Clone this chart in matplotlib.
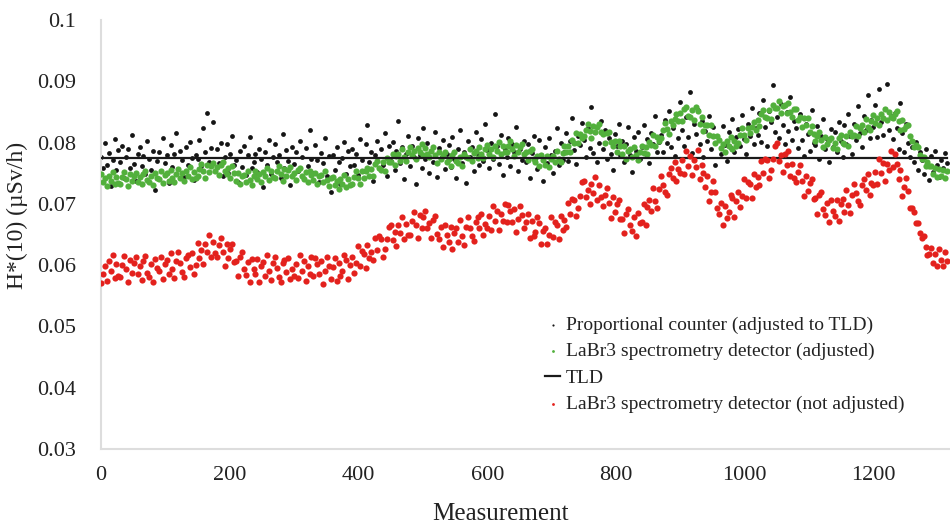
import numpy as np
import matplotlib.pyplot as plt

plt.rcParams['font.family'] = ['Liberation Serif', 'DejaVu Serif']

measurement = np.arange(0, 1316, 3)

prop_counter = [
    77.6, 75.8, 79.9, 76.4, 78.3, 72.9, 77.1, 80.6, 75.5, 78.8,
    76.9, 79.4, 74.3, 77.7, 78.9, 75.9, 81.2, 76.5, 73.8, 78.1,
    79.2, 76.2, 77.8, 74.9, 80.3, 77.3, 75.6, 78.6, 72.3, 77.0,
    78.4, 75.3, 80.8, 76.7, 77.9, 73.4, 79.6, 76.0, 78.2, 81.6,
    75.7, 78.7, 77.2, 74.4, 79.3, 76.3, 80.1, 77.5, 73.9, 78.0,
    77.4, 80.5, 76.1, 82.4, 78.5, 84.8, 76.8, 79.1, 83.3, 75.4,
    78.9, 76.6, 80.0, 74.6, 77.6, 79.8, 75.1, 78.2, 81.0, 76.4,
    77.2, 73.6, 78.6, 76.0, 79.5, 74.7, 77.9, 80.9, 75.8, 76.9,
    78.1, 75.2, 79.0, 77.4, 72.7, 78.5, 76.3, 80.4, 74.8, 77.7,
    79.7, 76.8, 78.0, 74.2, 81.4, 75.9, 78.8, 77.0, 73.1, 79.2,
    76.5, 78.4, 75.3, 80.2, 77.6, 74.0, 79.1, 76.2, 82.0, 77.3,
    75.0, 79.6, 77.1, 73.5, 78.3, 76.6, 80.7, 74.5, 77.8, 71.9,
    78.0, 75.6, 79.3, 76.9, 73.3, 77.5, 80.1, 74.9, 78.7, 76.1,
    79.0, 76.4, 78.2, 74.7, 80.6, 77.2, 75.3, 79.8, 82.8, 76.8,
    78.5, 73.7, 77.9, 80.3, 75.8, 78.9, 76.3, 81.5, 74.6, 79.4,
    77.0, 80.1, 75.5, 78.7, 83.6, 76.6, 79.3, 74.1, 78.1, 81.0,
    76.2, 79.5, 77.6, 73.2, 80.8, 78.0, 75.9, 82.4, 77.3, 79.9,
    75.1, 78.6, 76.8, 81.7, 74.4, 79.1, 77.5, 80.4, 75.7, 78.2,
    79.6, 76.0, 80.9, 77.4, 74.3, 79.0, 82.1, 76.7, 78.5, 73.4,
    80.3, 77.7, 79.2, 75.3, 81.8, 78.1, 76.4, 80.6, 77.0, 83.0,
    78.8, 75.8, 80.0, 77.3, 84.6, 79.4, 76.5, 81.3, 74.7, 78.9,
    77.6, 80.8, 76.2, 79.7, 78.4, 82.5, 75.4, 79.0, 77.1, 80.2,
    76.9, 79.8, 74.2, 78.3, 81.1, 77.4, 75.7, 80.5, 78.0, 73.8,
    79.3, 76.6, 80.7, 77.9, 75.1, 78.6, 82.3, 76.3, 79.9, 77.2,
    78.4, 81.6, 77.0, 80.2, 84.0, 78.8, 76.5, 81.1, 79.6, 83.2,
    80.5, 77.6, 82.4, 79.1, 85.8, 78.3, 81.7, 76.9, 80.0, 83.5,
    79.0, 82.0, 77.3, 80.8, 78.2, 75.6, 81.4, 79.5, 83.0, 77.9,
    80.3, 76.8, 79.7, 82.6, 78.0, 75.2, 80.9, 78.6, 81.8, 77.4,
    79.2, 82.9, 78.1, 80.6, 76.7, 81.5, 79.8, 84.3, 78.5, 80.1,
    81.2, 78.4, 83.7, 80.0, 85.1, 79.3, 82.4, 77.8, 84.6, 80.7,
    86.6, 82.0, 79.5, 84.2, 80.9, 88.2, 78.3, 83.0, 81.4, 85.3,
    79.8, 83.6, 77.6, 81.9, 80.3, 84.4, 78.9, 82.5, 76.4, 81.0,
    80.4, 78.1, 82.7, 79.6, 77.0, 81.8, 79.1, 83.9, 78.4, 80.9,
    82.2, 79.4, 84.5, 80.6, 78.2, 83.1, 81.0, 85.7, 79.8, 82.4,
    81.3, 84.8, 80.1, 86.9, 82.6, 79.5, 85.2, 83.4, 89.4, 81.7,
    84.1, 80.8, 86.3, 82.9, 79.7, 85.0, 81.9, 87.5, 80.4, 83.6,
    82.3, 79.1, 84.6, 80.5, 77.8, 83.0, 81.4, 78.6, 85.3, 80.0,
    79.6, 82.7, 77.4, 81.1, 83.8, 78.9, 80.6, 76.8, 82.2, 79.3,
    81.8, 78.5, 83.4, 80.2, 77.7, 82.9, 79.8, 84.7, 81.0, 78.2,
    83.1, 80.4, 85.9, 81.6, 79.2, 84.3, 82.0, 87.7, 80.8, 83.7,
    82.5, 86.1, 80.9, 88.8, 83.3, 81.2, 85.5, 89.6, 82.1, 84.4,
    80.6, 84.9, 82.3, 79.0, 86.4, 81.5, 78.4, 83.0, 80.0, 77.6,
    79.3, 76.9, 80.1, 75.6, 78.4, 77.2, 74.8, 78.9, 76.1, 73.9,
    77.8, 75.2, 78.6, 76.4, 74.4, 77.1, 75.9, 78.3, 76.6,
]

labr3_adjusted = [
    74.9, 73.5, 74.2, 72.9, 74.6, 73.8, 75.2, 73.2, 74.4, 73.4,
    73.3, 74.4, 75.2, 74.0, 72.9, 74.8, 73.7, 74.6, 75.1, 73.6,
    74.4, 73.2, 74.9, 75.3, 73.9, 73.5, 74.6, 73.0, 75.0, 74.3,
    74.0, 75.3, 73.4, 74.7, 75.0, 73.8, 75.6, 74.2, 73.5, 74.9,
    75.7, 74.3, 75.0, 73.7, 75.4, 74.6, 76.0, 74.0, 75.2, 74.2,
    74.5, 75.7, 76.5, 75.3, 74.3, 76.3, 75.2, 76.1, 76.7, 75.3,
    76.0, 74.7, 76.4, 76.8, 75.3, 74.9, 75.9, 74.3, 76.1, 75.1,
    73.8, 75.1, 73.2, 74.5, 74.7, 73.5, 75.3, 73.9, 73.1, 74.5,
    75.4, 74.1, 74.8, 73.6, 75.2, 74.5, 75.9, 73.9, 75.4, 74.4,
    74.2, 75.3, 76.1, 74.9, 73.8, 75.7, 74.6, 75.5, 76.0, 74.5,
    75.1, 73.9, 75.6, 75.9, 74.5, 74.1, 75.2, 73.5, 75.4, 74.7,
    73.9, 75.1, 73.2, 74.5, 74.7, 73.5, 75.3, 73.9, 72.9, 74.3,
    74.4, 73.0, 73.7, 72.4, 74.1, 73.3, 74.7, 72.8, 74.0, 73.0,
    73.2, 74.4, 75.3, 74.2, 73.2, 75.3, 74.3, 75.3, 75.9, 74.5,
    75.7, 74.6, 76.5, 77.0, 75.8, 75.5, 76.8, 75.3, 77.5, 76.9,
    76.8, 78.2, 76.4, 77.8, 78.2, 77.0, 78.9, 77.6, 77.0, 78.5,
    79.3, 77.9, 78.7, 77.4, 79.1, 78.4, 79.8, 77.9, 79.1, 78.2,
    77.6, 78.6, 79.3, 77.9, 76.7, 78.5, 77.3, 78.0, 78.4, 76.8,
    77.4, 76.2, 77.9, 78.4, 77.0, 76.6, 77.7, 76.2, 78.2, 77.7,
    77.5, 78.9, 77.0, 78.3, 78.6, 77.5, 79.3, 78.2, 77.5, 79.0,
    79.6, 78.2, 78.9, 77.7, 79.4, 78.7, 80.1, 78.2, 79.4, 78.5,
    78.4, 79.5, 80.2, 79.0, 77.8, 79.6, 78.4, 79.2, 79.7, 78.1,
    78.4, 77.1, 78.6, 78.9, 77.4, 76.8, 77.8, 76.1, 77.9, 77.1,
    76.4, 77.8, 76.0, 77.4, 77.8, 76.8, 78.7, 77.4, 76.8, 78.3,
    79.5, 78.4, 79.4, 78.4, 80.4, 79.9, 81.6, 79.9, 81.4, 80.7,
    81.0, 82.1, 83.0, 81.9, 80.8, 82.7, 81.7, 82.6, 83.1, 81.7,
    81.4, 80.0, 81.5, 81.7, 80.1, 79.4, 80.3, 78.5, 80.3, 79.4,
    78.2, 79.4, 77.4, 78.7, 78.9, 77.6, 79.3, 77.9, 77.1, 78.4,
    79.4, 78.3, 79.2, 78.2, 80.1, 79.6, 81.2, 79.5, 80.9, 80.2,
    80.7, 82.1, 83.2, 82.2, 81.4, 83.6, 82.8, 83.9, 84.7, 83.5,
    84.8, 83.6, 85.4, 85.8, 84.4, 84.1, 85.3, 83.7, 85.8, 85.1,
    83.1, 84.1, 81.9, 82.8, 82.8, 81.3, 82.8, 81.1, 80.0, 81.1,
    80.4, 79.1, 79.8, 78.5, 80.2, 79.5, 80.9, 79.0, 80.3, 79.4,
    80.0, 81.3, 82.3, 81.3, 80.4, 82.4, 81.5, 82.6, 83.3, 82.0,
    83.7, 82.7, 84.7, 85.3, 84.1, 84.0, 85.3, 83.9, 86.2, 85.7,
    85.6, 86.8, 84.8, 86.0, 86.2, 84.8, 86.5, 85.0, 84.2, 85.5,
    85.4, 83.7, 84.1, 82.6, 84.0, 82.9, 84.0, 81.8, 82.7, 81.4,
    80.2, 81.1, 81.8, 80.4, 79.2, 80.9, 79.7, 80.4, 80.8, 79.1,
    80.0, 78.9, 80.8, 81.3, 80.0, 79.8, 81.0, 79.5, 81.7, 81.1,
    81.3, 82.7, 81.0, 82.4, 82.9, 81.8, 83.8, 82.5, 82.0, 83.5,
    84.5, 83.2, 84.0, 82.9, 84.7, 84.0, 85.5, 83.7, 85.0, 84.1,
    84.0, 84.7, 85.2, 83.6, 82.1, 83.7, 82.2, 82.7, 82.9, 81.0,
    80.2, 79.2, 79.6, 79.3, 77.9, 77.4, 77.7, 76.1, 76.9, 76.1,
    76.2, 74.8, 75.9, 74.4, 75.7, 74.6, 75.6, 74.3, 75.4,
]

labr3_not_adjusted = [
    57.1, 58.6, 59.8, 57.4, 60.6, 59.1, 61.7, 57.9, 60.2, 58.3,
    58.0, 60.1, 61.5, 59.3, 57.2, 60.9, 58.7, 60.4, 61.4, 58.5,
    59.8, 57.5, 60.7, 61.5, 58.8, 58.0, 60.2, 57.2, 61.0, 59.5,
    59.0, 61.4, 57.7, 60.2, 60.9, 58.6, 62.0, 59.4, 57.9, 60.7,
    62.2, 60.4, 58.9, 58.0, 61.1, 61.7, 59.7, 62.0, 58.5, 60.1,
    63.6, 61.1, 62.4, 60.2, 63.5, 62.2, 64.9, 61.3, 63.7, 62.0,
    61.3, 63.3, 64.5, 62.2, 59.9, 63.5, 61.1, 62.7, 63.5, 60.5,
    60.7, 58.3, 61.4, 62.1, 59.3, 58.4, 60.5, 57.3, 61.0, 59.4,
    58.6, 61.0, 57.3, 59.8, 60.5, 58.2, 61.6, 59.0, 57.5, 60.3,
    61.4, 59.6, 58.1, 57.2, 60.3, 60.9, 58.9, 61.2, 57.7, 59.3,
    58.3, 60.2, 57.9, 61.7, 59.1, 60.6, 57.4, 59.8, 58.6, 61.3,
    58.3, 61.2, 60.2, 58.5, 60.7, 57.0, 59.1, 61.3, 59.9, 57.8,
    59.7, 61.2, 57.4, 60.4, 58.2, 59.0, 61.7, 60.9, 57.7, 60.0,
    61.3, 58.7, 60.3, 63.1, 59.9, 62.3, 61.8, 59.5, 63.3, 61.1,
    62.2, 60.8, 64.5, 62.5, 64.7, 64.3, 61.4, 62.6, 64.3, 66.3,
    66.6, 64.1, 65.4, 63.2, 66.5, 65.2, 67.9, 64.3, 66.7, 65.0,
    65.0, 67.2, 68.6, 66.5, 64.4, 68.2, 66.0, 67.8, 68.8, 66.0,
    66.9, 64.4, 67.4, 68.0, 65.1, 64.2, 66.2, 63.0, 66.6, 64.9,
    63.8, 66.3, 62.7, 65.2, 66.0, 63.8, 67.3, 64.7, 63.3, 66.2,
    67.8, 66.1, 64.7, 63.9, 67.1, 67.9, 66.0, 68.4, 65.0, 66.7,
    66.0, 68.0, 65.8, 69.7, 67.2, 68.9, 65.8, 68.3, 67.2, 70.0,
    67.0, 69.8, 68.8, 67.0, 69.2, 65.4, 67.5, 69.6, 68.2, 66.0,
    67.1, 68.4, 64.4, 67.2, 64.8, 65.4, 67.9, 66.9, 63.5, 65.6,
    66.0, 63.4, 65.0, 67.8, 64.6, 67.0, 66.5, 64.2, 68.0, 65.8,
    67.4, 66.2, 70.2, 68.3, 70.8, 70.6, 68.0, 69.3, 71.3, 73.5,
    73.8, 71.1, 72.3, 69.9, 73.2, 71.7, 74.4, 70.6, 73.0, 71.1,
    69.7, 71.5, 72.6, 70.1, 67.7, 71.1, 68.6, 70.0, 70.7, 67.5,
    67.6, 65.3, 68.4, 69.1, 66.5, 65.6, 67.8, 64.8, 68.5, 66.9,
    67.1, 69.9, 66.6, 69.5, 70.6, 68.8, 72.6, 70.4, 69.3, 72.5,
    74.5, 73.1, 71.9, 71.4, 74.9, 75.8, 74.2, 76.9, 73.7, 75.7,
    75.1, 77.1, 74.9, 78.7, 76.2, 77.8, 74.7, 77.1, 76.0, 78.8,
    74.0, 76.4, 75.0, 72.8, 74.5, 70.4, 72.0, 73.7, 71.9, 69.3,
    68.4, 70.1, 66.5, 69.7, 67.7, 68.6, 71.5, 70.9, 67.9, 70.4,
    72.0, 69.5, 71.3, 74.1, 71.0, 73.6, 73.2, 70.9, 74.9, 72.8,
    74.4, 73.1, 77.0, 75.0, 77.3, 77.1, 74.3, 75.5, 77.4, 79.5,
    80.0, 77.0, 77.9, 75.2, 78.1, 76.3, 78.6, 74.5, 76.5, 74.3,
    73.5, 75.2, 76.3, 73.7, 71.3, 74.6, 72.1, 73.4, 74.1, 70.8,
    70.9, 68.4, 71.4, 72.0, 69.1, 68.2, 70.2, 67.0, 70.6, 68.9,
    68.1, 70.7, 67.2, 69.9, 70.8, 68.6, 72.2, 69.8, 68.5, 71.5,
    73.2, 71.7, 70.4, 69.8, 73.1, 74.0, 72.2, 74.8, 71.5, 73.4,
    73.0, 75.2, 73.2, 77.3, 75.0, 76.7, 73.8, 76.5, 75.6, 78.6,
    76.0, 78.2, 76.5, 74.1, 75.6, 71.3, 72.7, 74.2, 72.1, 69.3,
    69.4, 68.6, 66.8, 66.9, 65.2, 64.5, 64.8, 63.0, 61.7, 61.8,
    62.8, 60.4, 61.9, 59.8, 62.6, 60.9, 59.9, 62.1, 60.7,
]

tld = 77.5

x_ticks = [0, 200, 400, 600, 800, 1000, 1200]
y_ticks = [0.03, 0.04, 0.05, 0.06, 0.07, 0.08, 0.09, 0.1]
y_ticklabels = ["0.03", "0.04", "0.05", "0.06", "0.07", "0.08", "0.09", "0.1"]


def to_usv(values):
    return np.asarray(values) / 1000.0


fig = plt.figure(figsize=(9.5, 5.24), dpi=100)
ax = fig.add_axes([0.1063, 0.1431, 0.8937, 0.8187])

ax.scatter(measurement, to_usv(prop_counter), s=12, color='#151515',
           linewidths=0, label='Proportional counter (adjusted to TLD)', zorder=2)
ax.scatter(measurement, to_usv(labr3_adjusted), s=20, color='#52b03c',
           linewidths=0, label='LaBr3 spectrometry detector (adjusted)', zorder=3)
ax.plot(measurement, np.full(len(measurement), tld / 1000.0), color='#1a1a1a',
        lw=1.6, label='TLD', zorder=4)
ax.scatter(measurement, to_usv(labr3_not_adjusted), s=20, color='#e3211d',
           linewidths=0, label='LaBr3 spectrometry detector (not adjusted)', zorder=5)

ax.set_xlim(0, 1319)
ax.set_ylim(0.03, 0.1)
ax.set_xticks(x_ticks)
ax.set_yticks(y_ticks)
ax.set_yticklabels(y_ticklabels)
ax.tick_params(length=0, labelsize=16, colors='#222222')
ax.tick_params(axis='y', pad=18)
ax.tick_params(axis='x', pad=12)

for side in ['top', 'right']:
    ax.spines[side].set_visible(False)
for side in ['left', 'bottom']:
    ax.spines[side].set_color('#dddddd')
    ax.spines[side].set_linewidth(1.5)

ax.set_xlabel('Measurement', fontsize=18, color='#222222')
ax.set_ylabel('H*(10) (µSv/h)', fontsize=17, color='#222222')
ax.xaxis.set_label_coords(0.47, -0.125)
ax.yaxis.set_label_coords(-0.086, 0.545)

leg = ax.legend(loc='upper left', bbox_to_anchor=(0.555, 0.43),
                bbox_transform=fig.transFigure, frameon=False, fontsize=14,
                handlelength=0.8, handletextpad=0.3, labelspacing=0.45,
                markerscale=0.45)
for text in leg.get_texts():
    text.set_color('#222222')

fig.savefig('out.png', dpi=100)
